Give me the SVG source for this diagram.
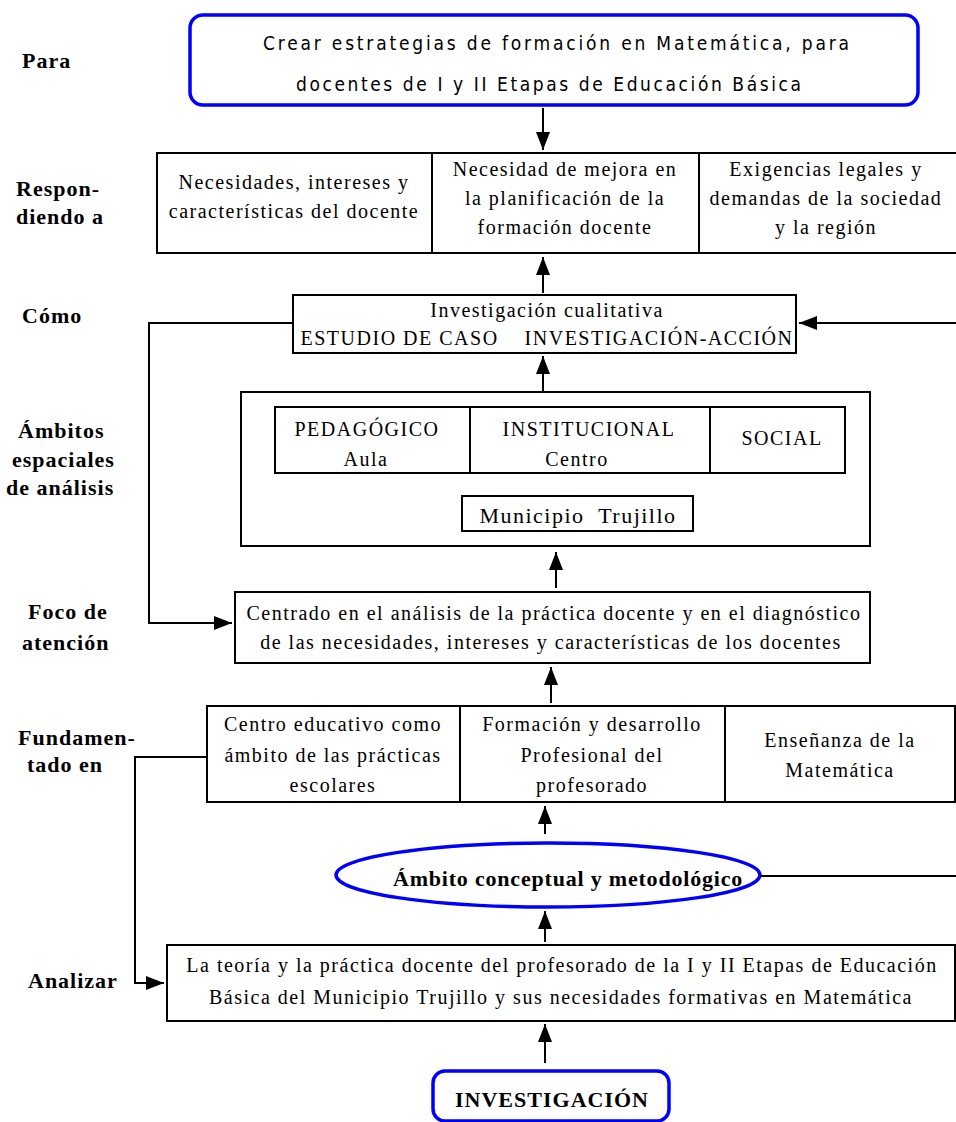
<svg xmlns="http://www.w3.org/2000/svg" width="956" height="1122" viewBox="0 0 956 1122">
  <defs>
    <marker id="arrow" markerUnits="userSpaceOnUse" markerWidth="18" markerHeight="14" refX="18" refY="7" orient="auto">
      <path d="M0,0 L18,7 L0,14 z" fill="#000"/>
    </marker>
    <style>
      .box { fill: #fff; stroke: #000; stroke-width: 2; }
      .blue { fill: #fff; stroke: #0000ff; stroke-width: 3.5; }
      .div { stroke: #000; stroke-width: 2; }
      .t { font-size: 20px; letter-spacing: 1.5px; fill: #000; text-anchor: middle; }
      .big { font-size: 22px; }
      .lbl { font-size: 22px; font-weight: bold; letter-spacing: 1px; fill: #000; }
      .bold { font-size: 22px; font-weight: bold; letter-spacing: 0.8px; fill: #000; text-anchor: middle; }
      .sans { font-size: 19px; fill: #000; }
      .conn { fill: none; stroke: #000; stroke-width: 2; }
    </style>
  </defs>

  <rect width="956" height="1122" fill="#fff"/>

  <!-- row labels -->
  <g id="labels" font-family="Liberation Serif, DejaVu Serif, serif">
    <text class="lbl" x="22" y="68">Para</text>
    <text class="lbl" x="16" y="196">Respon-</text>
    <text class="lbl" x="16" y="224">diendo a</text>
    <text class="lbl" x="22" y="323">Cómo</text>
    <text class="lbl" x="18" y="438">Ámbitos</text>
    <text class="lbl" x="12" y="467">espaciales</text>
    <text class="lbl" x="6" y="495">de análisis</text>
    <text class="lbl" x="28" y="619">Foco de</text>
    <text class="lbl" x="22" y="650">atención</text>
    <text class="lbl" x="18" y="745">Fundamen-</text>
    <text class="lbl" x="27" y="772">tado en</text>
    <text class="lbl" x="28" y="988">Analizar</text>
  </g>

  <!-- goal -->
  <g id="goal" font-family="DejaVu Sans Condensed, DejaVu Sans, sans-serif">
    <rect class="blue" x="190" y="15" width="728" height="90" rx="13"/>
    <text class="sans" x="263" y="50" textLength="586" lengthAdjust="spacing">Crear estrategias de formación en Matemática, para</text>
    <text class="sans" x="296" y="91" textLength="505" lengthAdjust="spacing">docentes de I y II Etapas de Educación Básica</text>
  </g>

  <!-- responding to -->
  <g id="responding" font-family="Liberation Serif, DejaVu Serif, serif">
    <rect class="box" x="157" y="153" width="810" height="100"/>
    <line class="div" x1="432" y1="153" x2="432" y2="253"/>
    <line class="div" x1="699" y1="153" x2="699" y2="253"/>
    <text class="t" x="294" y="189">Necesidades, intereses y</text>
    <text class="t" x="294" y="218">características del docente</text>
    <text class="t" x="565" y="176">Necesidad de mejora en</text>
    <text class="t" x="565" y="205">la planificación de la</text>
    <text class="t" x="565" y="234">formación docente</text>
    <text class="t" x="826" y="176">Exigencias legales y</text>
    <text class="t" x="826" y="205">demandas de la sociedad</text>
    <text class="t" x="826" y="234">y la región</text>
  </g>

  <!-- how -->
  <g id="how" font-family="Liberation Serif, DejaVu Serif, serif">
    <rect class="box" x="293" y="295" width="503" height="58"/>
    <text class="t" x="547" y="317">Investigación cualitativa</text>
    <text class="t" x="547" y="345" xml:space="preserve">ESTUDIO DE CASO    INVESTIGACIÓN-ACCIÓN</text>
  </g>

  <!-- spatial scopes -->
  <g id="scopes" font-family="Liberation Serif, DejaVu Serif, serif">
    <rect class="box" x="241" y="392" width="629" height="154"/>
    <rect class="box" x="275" y="407" width="570" height="66"/>
    <line class="div" x1="470" y1="407" x2="470" y2="473"/>
    <line class="div" x1="710" y1="407" x2="710" y2="473"/>
    <text class="t" x="367" y="436">PEDAGÓGICO</text>
    <text class="t" x="366" y="466">Aula</text>
    <text class="t" x="589" y="436">INSTITUCIONAL</text>
    <text class="t" x="577" y="466">Centro</text>
    <text class="t" x="782" y="445">SOCIAL</text>
    <rect class="box" x="462" y="496" width="231" height="35"/>
    <text class="t big" x="578" y="523" xml:space="preserve">Municipio  Trujillo</text>
  </g>

  <!-- focus -->
  <g id="focus" font-family="Liberation Serif, DejaVu Serif, serif">
    <rect class="box" x="235" y="592" width="635" height="71"/>
    <text class="t" x="554" y="620">Centrado en el análisis de la práctica docente y en el diagnóstico</text>
    <text class="t" x="551" y="649">de las necesidades, intereses y características de los docentes</text>
  </g>

  <!-- grounded in -->
  <g id="grounded" font-family="Liberation Serif, DejaVu Serif, serif">
    <rect class="box" x="207" y="706" width="748" height="96"/>
    <line class="div" x1="460" y1="706" x2="460" y2="802"/>
    <line class="div" x1="725" y1="706" x2="725" y2="802"/>
    <text class="t" x="333" y="731">Centro educativo como</text>
    <text class="t" x="333" y="762">ámbito de las prácticas</text>
    <text class="t" x="333" y="792">escolares</text>
    <text class="t" x="592" y="731">Formación y desarrollo</text>
    <text class="t" x="592" y="762">Profesional del</text>
    <text class="t" x="592" y="792">profesorado</text>
    <text class="t" x="840" y="747">Enseñanza de la</text>
    <text class="t" x="840" y="777">Matemática</text>
  </g>

  <!-- conceptual scope -->
  <g id="conceptual" font-family="Liberation Serif, DejaVu Serif, serif">
    <ellipse class="blue" cx="548" cy="875" rx="212" ry="32"/>
    <text class="bold" x="568" y="886">Ámbito conceptual y metodológico</text>
  </g>

  <!-- analyse -->
  <g id="analyse" font-family="Liberation Serif, DejaVu Serif, serif">
    <rect class="box" x="167" y="945" width="788" height="76"/>
    <text class="t" x="562" y="972">La teoría y la práctica docente del profesorado de la I y II Etapas de Educación</text>
    <text class="t" x="561" y="1004">Básica del Municipio Trujillo y sus necesidades formativas en Matemática</text>
  </g>

  <!-- research -->
  <g id="research" font-family="Liberation Serif, DejaVu Serif, serif">
    <rect class="blue" x="433" y="1071" width="236" height="50" rx="12"/>
    <text class="bold" x="552" y="1107" style="letter-spacing:1px">INVESTIGACIÓN</text>
  </g>

  <!-- connectors -->
  <g id="connectors">
    <line class="conn" x1="543" y1="108" x2="543" y2="150" marker-end="url(#arrow)"/>
    <line class="conn" x1="543" y1="293" x2="543" y2="257" marker-end="url(#arrow)"/>
    <line class="conn" x1="543" y1="391" x2="543" y2="356" marker-end="url(#arrow)"/>
    <line class="conn" x1="556" y1="588" x2="556" y2="552" marker-end="url(#arrow)"/>
    <line class="conn" x1="551" y1="703" x2="551" y2="667" marker-end="url(#arrow)"/>
    <line class="conn" x1="545" y1="834" x2="545" y2="806" marker-end="url(#arrow)"/>
    <line class="conn" x1="545" y1="942" x2="545" y2="911" marker-end="url(#arrow)"/>
    <line class="conn" x1="545" y1="1063" x2="545" y2="1024" marker-end="url(#arrow)"/>
    <path class="conn" d="M293,323 H149 V623 H232" marker-end="url(#arrow)"/>
    <path class="conn" d="M956,323 H799" marker-end="url(#arrow)"/>
    <path class="conn" d="M207,757 H135 V983 H164" marker-end="url(#arrow)"/>
    <path class="conn" d="M760,876 H956"/>
  </g>
</svg>
